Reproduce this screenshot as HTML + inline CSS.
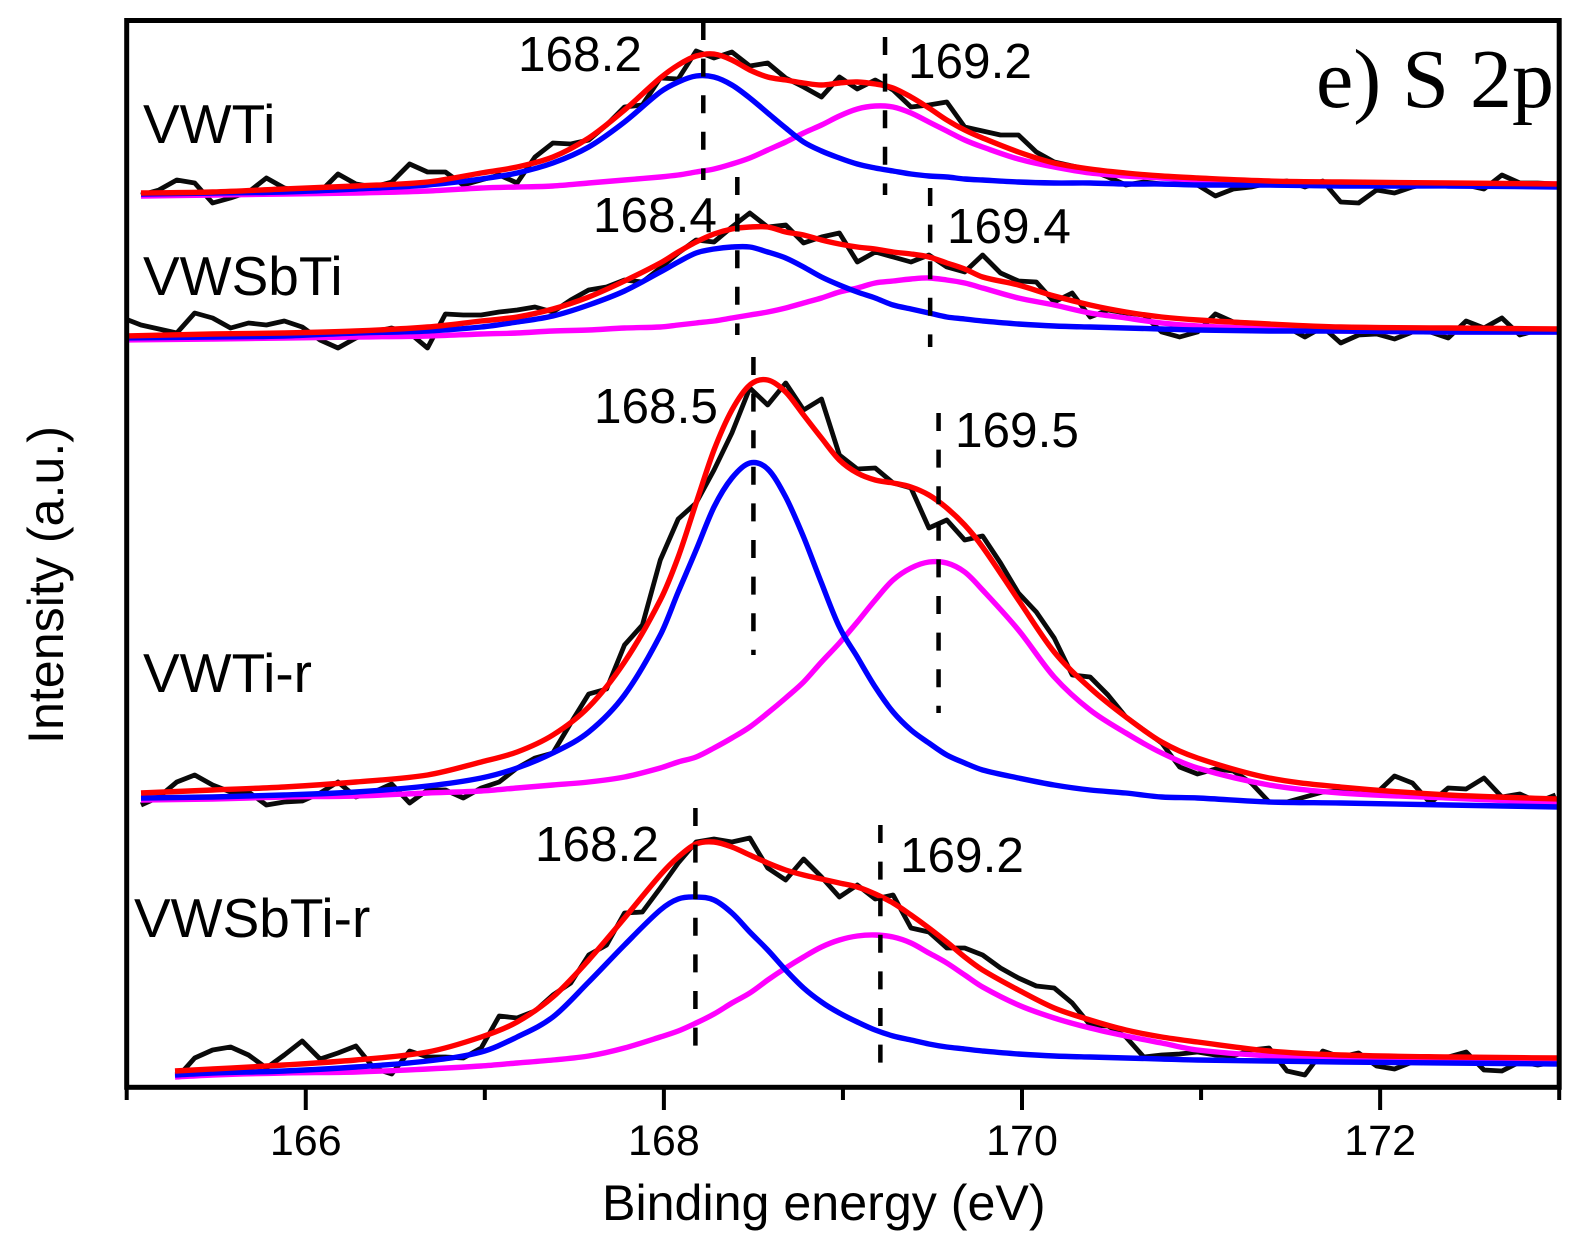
<!DOCTYPE html>
<html lang="en">
<head>
<meta charset="utf-8">
<title>S 2p XPS spectra</title>
<style>
html,body{margin:0;padding:0;background:#fff}
svg{display:block}
text{font-family:"Liberation Sans",sans-serif;fill:#000}
.sample{font-size:55px}
.peak{font-size:49.5px}
.tick{font-size:43px;text-anchor:middle}
.title{font-size:50.2px}
</style>
</head>
<body>
<svg id="chart" xmlns="http://www.w3.org/2000/svg" width="1574" height="1256" viewBox="0 0 1574 1256">
  <defs><clipPath id="plot-clip"><rect x="127" y="20" width="1432" height="1067"/></clipPath></defs>
  <rect x="0" y="0" width="1574" height="1256" fill="#fff"/>
  <g id="series-layer" clip-path="url(#plot-clip)"></g>
  <g id="marker-layer"></g>
  <rect x="126.7" y="20.5" width="1432.5" height="1066.8" fill="none" stroke="#000" stroke-width="5"/>
  <g id="tick-layer"></g>

  <text class="sample" x="143" y="143">VWTi</text>
  <text class="sample" x="143" y="295">VWSbTi</text>
  <text class="sample" x="143" y="692">VWTi-r</text>
  <text class="sample" x="134" y="937">VWSbTi-r</text>

  <text class="peak" x="518" y="71">168.2</text>
  <text class="peak" x="908" y="78">169.2</text>
  <text class="peak" x="593" y="232">168.4</text>
  <text class="peak" x="947" y="243">169.4</text>
  <text class="peak" x="594" y="423">168.5</text>
  <text class="peak" x="955" y="447">169.5</text>
  <text class="peak" x="535" y="861">168.2</text>
  <text class="peak" x="900" y="872">169.2</text>

  <text x="1316" y="107" style="font-family:'Liberation Serif',serif;font-size:84px">e) S 2p</text>
  <text class="title" x="602" y="1220">Binding energy (eV)</text>
  <text class="title" transform="translate(63 744) rotate(-90)">Intensity (a.u.)</text>
</svg>
<script>
// ---- axis categories and ticks ----
const xTickValues = [165,166,167,168,169,170,171,172,173];
const xTickLabels = ["","166","","168","","170","","172",""];

// measurement energies (eV) of the raw scans
const scanEnergies = [164.98,165.08,165.18,165.28,165.38,165.48,165.58,165.68,165.78,165.88,165.98,166.08,166.18,166.28,166.38,166.48,166.58,166.68,166.78,166.88,166.98,167.08,167.18,167.28,167.38,167.48,167.58,167.68,167.78,167.88,167.98,168.08,168.18,168.28,168.38,168.48,168.58,168.68,168.78,168.88,168.98,169.08,169.18,169.28,169.38,169.48,169.58,169.68,169.78,169.88,169.98,170.08,170.18,170.28,170.38,170.48,170.58,170.68,170.78,170.88,170.98,171.08,171.18,171.28,171.38,171.48,171.58,171.68,171.78,171.88,171.98,172.08,172.18,172.28,172.38,172.48,172.58,172.68,172.78,172.88,172.98];
// energies of the fitted envelopes (first point is per sample)
const fitEnergiesTail = [165.48,165.88,166.28,166.68,166.98,167.18,167.38,167.58,167.78,167.98,168.08,168.18,168.28,168.38,168.48,168.58,168.68,168.78,168.88,168.98,169.08,169.18,169.28,169.38,169.48,169.58,169.68,169.78,169.98,170.18,170.38,170.58,170.78,170.98,171.38,171.78,172.38,173.0];

// ---- VWTi ----
const vwtiRaw = [892,897,907,904,884,889,895,909,899,895,895,913,903,900,905,923,915,915,902,907,912,904,930,944,943,947,962,980,982,1009,1008,1036,1029,1035,1021,1024,1009,1000,990,1010,998,1007,997,980,982,985,960,956,952,952,935,925,921,917,910,902,905,903,903,902,891,898,900,904,906,900,906,885,884,897,894,900,904,904,902,898,912,904,904,903];
const vwtiEnvelope = [894,895,898,901,905,914,920,930,949,977,1009,1022,1031,1033,1027,1017,1010,1007,1004,1002,1004,1005,1003,999,990,979,967,957,949,935,924,918,914,911,909,906,905,904,903];
const vwtiPeakA = [893,894,895,898,902,908,914,924,940,965,995,1005,1011,1010,1002,989,974,959,945,936,929,923,919,916,913,911,910,908,907,905,904,904,903,903,902,902,901,901,900];
const vwtiPeakB = [891,892,893,894,896,899,900,901,904,907,910,912,915,918,923,929,937,945,954,962,971,978,981,980,974,965,956,947,940,928,920,914,911,909,907,905,904,903,903];

// ---- VWSbTi ----
const vwsbtiRaw = [769,762,758,754,774,769,759,764,762,766,760,747,739,749,755,759,754,739,773,772,772,775,777,780,775,787,797,800,807,805,819,834,847,845,860,874,860,862,844,850,854,825,835,830,825,832,820,815,832,814,806,805,785,794,770,777,774,772,755,750,755,773,765,764,762,760,750,760,744,752,753,748,755,755,749,766,759,769,752,757,757];
const vwsbtiEnvelope = [751,753,754,756,760,766,770,778,790,806,824,835,845,853,858,860,860,855,852,847,843,840,838,835,833,830,824,818,810,802,791,782,775,770,767,763,760,759,758];
const vwsbtiPeakA = [749,750,751,754,756,760,765,771,782,796,815,825,834,838,840,840,835,829,820,810,802,795,789,782,778,774,770,768,766,763,761,760,759,758,757,756,756,755,755];
const vwsbtiPeakB = [747,748,749,750,751,753,754,756,757,759,760,762,764,766,769,772,775,779,784,789,795,799,804,806,808,809,807,804,799,789,782,774,769,764,761,758,756,755,755];

// ---- VWTi-r ----
const vwtirRaw = [282,290,305,312,302,295,295,282,285,286,294,305,290,295,303,284,297,297,289,299,305,319,329,334,364,393,398,442,462,527,568,584,617,654,699,682,704,677,688,632,618,619,604,599,559,567,547,551,524,494,475,449,412,410,392,370,357,344,320,313,318,316,304,285,285,290,295,296,295,294,311,304,284,299,298,309,290,293,285,292];
const vwtirEnvelope = [294,297,300,305,312,325,335,352,380,425,487,530,584,637,677,702,707,695,672,649,627,614,607,604,600,592,579,562,540,487,435,399,370,345,329,309,300,292,288];
const vwtirPeakA = [289,290,292,295,301,309,319,334,355,392,452,495,537,580,609,624,618,590,550,504,460,430,400,375,357,344,332,324,317,309,302,297,294,290,289,285,284,282,280];
const vwtirPeakB = [287,288,290,291,294,296,299,302,305,310,319,325,330,339,349,360,374,389,405,425,444,465,487,507,519,525,524,515,497,457,410,377,354,334,319,302,294,289,284];

// ---- VWSbTi-r ----
const vwsbtirRaw = [9,29,37,40,32,19,32,46,28,34,41,19,13,36,30,30,29,39,71,69,76,92,104,132,142,174,175,199,224,245,248,245,249,219,207,228,210,190,202,188,192,159,155,139,139,132,119,109,101,99,84,62,61,50,30,32,33,35,32,31,37,39,16,12,36,30,34,21,18,25,29,30,35,17,16,25,22,25];
const vwsbtirEnvelope = [16,18,22,27,35,50,65,90,127,169,212,230,243,245,240,232,224,217,212,208,204,200,193,184,172,159,145,130,117,97,79,67,57,50,45,36,32,30,29];
const vwsbtirPeakA = [12,14,16,20,26,35,50,70,105,142,177,188,190,187,174,155,137,117,99,85,74,65,57,51,47,43,40,38,36,33,31,30,29,28,27,26,25,24,23];
const vwsbtirPeakB = [10,12,14,15,18,21,24,27,31,39,50,56,64,73,84,94,107,119,130,140,147,151,152,150,144,134,124,112,100,82,69,59,51,44,37,31,28,26,25];

// ---- fitted peak positions (eV) and the intensity span of each dashed marker ----
const markerEnergies = [168.22,169.235,168.41,169.487,168.50,169.534,168.176,169.209];
const markerTopIntensity = [1065,1050,910,899,730,674,279,262];
const markerBottomIntensity = [907,892,752,740,432,374,40,24];

// ---- axis functions ----
const xDomain = [165, 173], xRange = [126.7, 1559.2];
const yDomain = [0, 1067], yRange = [1087, 20];
function xScale(e){ return xRange[0] + (e - xDomain[0]) / (xDomain[1] - xDomain[0]) * (xRange[1] - xRange[0]); }
function yScale(v){ return yRange[0] + (v - yDomain[0]) / (yDomain[1] - yDomain[0]) * (yRange[1] - yRange[0]); }

const NS = 'http://www.w3.org/2000/svg';
const seriesLayer = document.getElementById('series-layer');
const markerLayer = document.getElementById('marker-layer');
const tickLayer = document.getElementById('tick-layer');

function rawPath(xs, ys){
  return ys.map(function(v, i){ return (i ? 'L' : 'M') + xScale(xs[i]).toFixed(1) + ' ' + yScale(v).toFixed(1); }).join(' ');
}
// smooth path through every point, for the fitted curves
function smoothPath(xs, ys){
  const px = ys.map(function(v, i){ return xScale(xs[i]); });
  const py = ys.map(function(v){ return yScale(v); });
  const last = py.length - 1;
  const slope = py.map(function(v, i){
    const a = Math.max(i - 1, 0), b = Math.min(i + 1, last);
    return (py[b] - py[a]) / (px[b] - px[a]);
  });
  let d = 'M' + px[0].toFixed(1) + ' ' + py[0].toFixed(1);
  for (let i = 0; i < last; i++) {
    const h = (px[i + 1] - px[i]) / 3;
    d += ' C' + (px[i] + h).toFixed(1) + ' ' + (py[i] + slope[i] * h).toFixed(1) + ' ' +
         (px[i + 1] - h).toFixed(1) + ' ' + (py[i + 1] - slope[i + 1] * h).toFixed(1) + ' ' +
         px[i + 1].toFixed(1) + ' ' + py[i + 1].toFixed(1);
  }
  return d;
}
function drawCurve(name, pathData, color, width){
  const line = document.createElementNS(NS, 'path');
  
  
  line.setAttribute('d', pathData);
  line.setAttribute('fill', 'none');
  line.setAttribute('stroke', color);
  line.setAttribute('stroke-width', width);
  line.setAttribute('stroke-linejoin', 'round');
  seriesLayer.appendChild(line);
}

const sampleKeys = ['vwti', 'vwsbti', 'vwti-r', 'vwsbti-r'];
const sampleRaw = [vwtiRaw, vwsbtiRaw, vwtirRaw, vwsbtirRaw];
const sampleEnvelope = [vwtiEnvelope, vwsbtiEnvelope, vwtirEnvelope, vwsbtirEnvelope];
const samplePeakA = [vwtiPeakA, vwsbtiPeakA, vwtirPeakA, vwsbtirPeakA];
const samplePeakB = [vwtiPeakB, vwsbtiPeakB, vwtirPeakB, vwsbtirPeakB];
const sampleFitStart = [165.08, 164.99, 165.08, 165.27];

sampleKeys.forEach(function(key, s){
  const rawValues = sampleRaw[s];
  const rawEnergies = scanEnergies.slice(scanEnergies.length - rawValues.length);
  const fitEnergies = [sampleFitStart[s]].concat(fitEnergiesTail);
  drawCurve(key + '-raw-spectrum', rawPath(rawEnergies, rawValues), '#0a0a0a', 4.8);
  drawCurve(key + '-peak-high-energy', smoothPath(fitEnergies, samplePeakB[s]), '#ff00ff', 5.4);
  drawCurve(key + '-peak-low-energy', smoothPath(fitEnergies, samplePeakA[s]), '#0000ff', 5.4);
  drawCurve(key + '-fit-envelope', smoothPath(fitEnergies, sampleEnvelope[s]), '#ff0000', 5.4);
});

markerEnergies.forEach(function(e, i){
  const dash = document.createElementNS(NS, 'line');
  
  
  dash.setAttribute('x1', xScale(e));
  dash.setAttribute('x2', xScale(e));
  dash.setAttribute('y1', yScale(markerTopIntensity[i]));
  dash.setAttribute('y2', yScale(markerBottomIntensity[i]));
  dash.setAttribute('stroke', '#000');
  dash.setAttribute('stroke-width', 4.5);
  dash.setAttribute('stroke-dasharray', '18 18.6');
  markerLayer.appendChild(dash);
});

xTickValues.forEach(function(t, i){
  const major = xTickLabels[i] !== '';
  const tick = document.createElementNS(NS, 'line');
  
  
  tick.setAttribute('x1', xScale(t));
  tick.setAttribute('x2', xScale(t));
  tick.setAttribute('y1', 1087);
  tick.setAttribute('y2', major ? 1110 : 1100);
  tick.setAttribute('stroke', '#000');
  tick.setAttribute('stroke-width', 4);
  tickLayer.appendChild(tick);
  if (major) {
    const label = document.createElementNS(NS, 'text');
    
    
    label.setAttribute('class', 'tick');
    label.setAttribute('x', xScale(t));
    label.setAttribute('y', 1155);
    label.textContent = xTickLabels[i];
    tickLayer.appendChild(label);
  }
});
</script>
</body>
</html>
